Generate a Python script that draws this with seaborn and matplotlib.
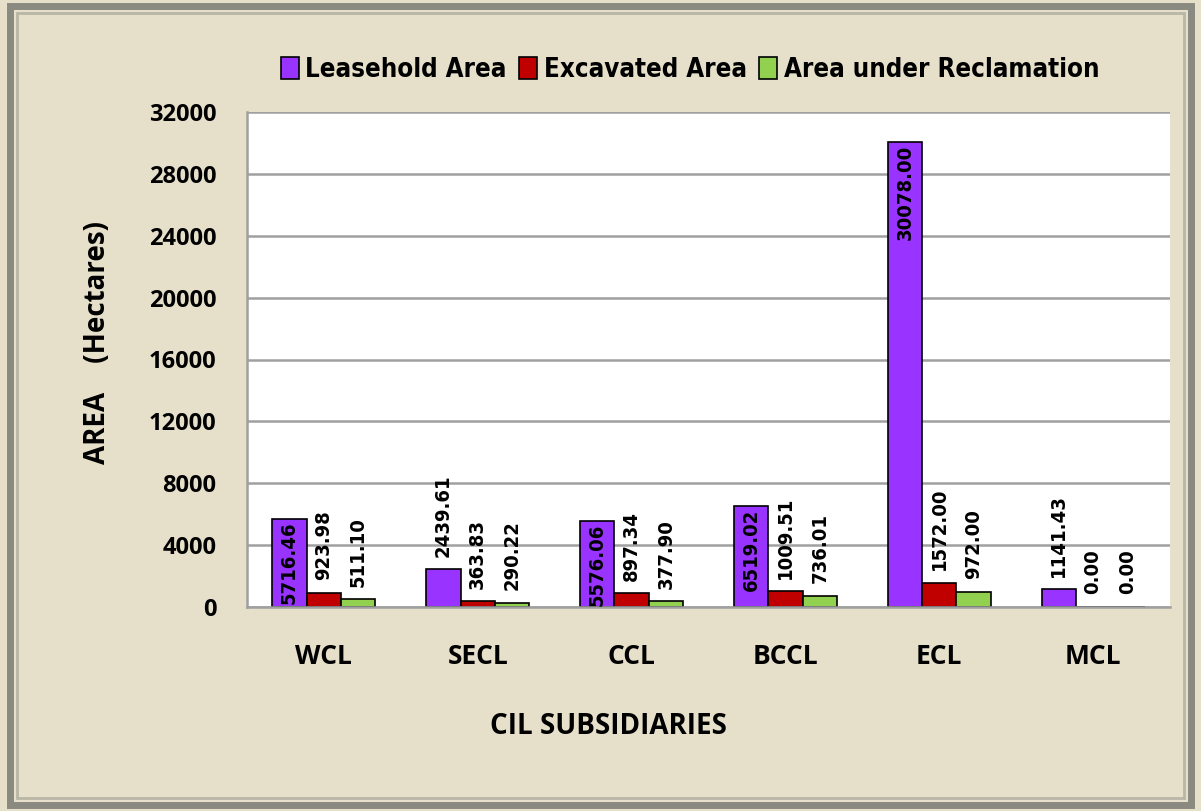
import pandas as pd
import matplotlib.pyplot as plt
import seaborn as sns
from matplotlib.patches import Rectangle
from matplotlib.ticker import FixedLocator
from matplotlib.font_manager import FontProperties

subsidiaries = ['WCL', 'SECL', 'CCL', 'BCCL', 'ECL', 'MCL']
leasehold = [5716.46, 2439.61, 5576.06, 6519.02, 30078.00, 1141.43]
excavated = [923.98, 363.83, 897.34, 1009.51, 1572.00, 0.00]
reclamation = [511.10, 290.22, 377.90, 736.01, 972.00, 0.00]
series_names = ['Leasehold Area', 'Excavated Area', 'Area under Reclamation']
colors = ['#9933FF', '#C00000', '#92D050']

df = pd.DataFrame({
    'sub': subsidiaries * 3,
    'series': [s for s in series_names for _ in subsidiaries],
    'value': leasehold + excavated + reclamation,
})

sns.set_style('white')
plt.rcParams['text.color'] = 'black'
plt.rcParams['axes.labelcolor'] = 'black'
plt.rcParams['xtick.labelcolor'] = 'black'
plt.rcParams['ytick.labelcolor'] = 'black'

# condensed bold stands in for Arial Narrow, Open Sans bold for Calibri
narrow = FontProperties(family='DejaVu Sans', stretch='condensed', weight='bold', size=14.5)
calib = ['Open Sans', 'DejaVu Sans']

fig = plt.figure(figsize=(12.01, 8.11), dpi=100)
fig.patch.set_facecolor('#E6E0CA')
ax = fig.add_axes([247/1201, 1-607/811, (1170-247)/1201, (607-112)/811])
ax.set_facecolor('white')

sns.barplot(data=df, x='sub', y='value', hue='series', palette=colors,
            width=0.67, edgecolor='black', linewidth=1.2, ax=ax, saturation=1)

# data labels
for cont in ax.containers:
    for bar in cont:
        h = bar.get_height()
        x = bar.get_x() + bar.get_width() / 2
        if h > 5000:
            ax.annotate(f'{h:.2f}', (x, h), xytext=(0, -2), textcoords='offset points',
                        rotation=90, ha='center', va='top', fontproperties=narrow)
        else:
            ax.annotate(f'{h:.2f}', (x, h), xytext=(0, 9), textcoords='offset points',
                        rotation=90, ha='center', va='bottom', fontproperties=narrow)

ax.set_ylim(0, 32000)
ax.set_xlim(-0.5, 5.5)
ax.yaxis.grid(True, color='#A0A0A0', linewidth=1.8)
ax.set_axisbelow(True)
for s in ['top', 'right']:
    ax.spines[s].set_visible(False)
for s in ['left', 'bottom']:
    ax.spines[s].set_color('#A0A0A0')
    ax.spines[s].set_linewidth(1.8)

ax.xaxis.set_minor_locator(FixedLocator([i - 0.5 for i in range(7)]))
ax.tick_params(axis='x', which='major', length=0, pad=26)
ax.tick_params(axis='x', which='minor', length=12, width=1.8, color='#A0A0A0')
ax.tick_params(axis='y', length=8, width=1.8, color='#A0A0A0', pad=14)
ax.set_xticks(range(6), subsidiaries, fontsize=19, fontweight='bold', family=calib)
ax.set_yticks(range(0, 32001, 4000), [str(v) for v in range(0, 32001, 4000)],
              fontsize=17, fontweight='bold', family=calib)

ax.set_xlabel('CIL SUBSIDIARIES', fontsize=20, fontweight='bold', family=calib)
ax.xaxis.set_label_coords(0.392, -0.242)
ax.xaxis.label.set_va('center')
ax.set_ylabel('AREA    (Hectares)', fontsize=20, fontweight='bold', family=calib)
ax.yaxis.set_label_coords(-0.1625, 0.535)
ax.yaxis.label.set_va('center')

handles, labels = ax.get_legend_handles_labels()
ax.get_legend().remove()
fig.legend(handles, labels, loc='center', bbox_to_anchor=(690/1201, 1-70/811), ncol=3,
           frameon=False, handlelength=0.7, handleheight=0.9, handletextpad=0.25,
           columnspacing=0.5,
           prop=FontProperties(family='DejaVu Sans', stretch='condensed', weight='bold', size=18.5))

# frame around the figure
fig.patches.append(Rectangle((0.008, 0.008), 0.984, 0.984, transform=fig.transFigure,
                             fill=False, edgecolor='#8A8A80', linewidth=5))
fig.patches.append(Rectangle((0.014, 0.016), 0.972, 0.968, transform=fig.transFigure,
                             fill=False, edgecolor='#B8B6A6', linewidth=2))

fig.savefig('out.png', dpi=100, facecolor=fig.get_facecolor())
